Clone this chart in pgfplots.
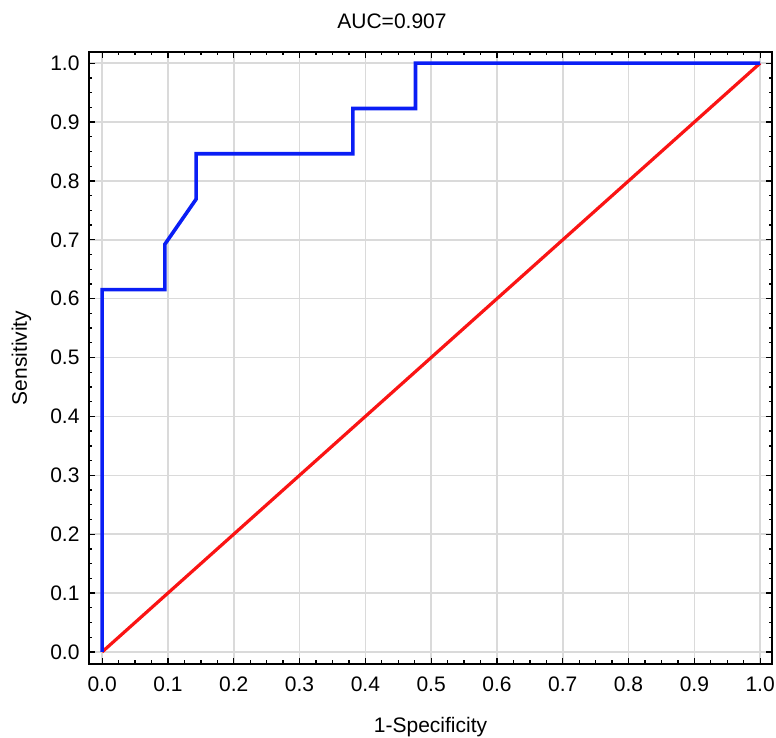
\documentclass[border=0pt]{standalone}
\usepackage{pgfplots}
\pgfplotsset{compat=1.18}
\usepackage{fontspec}
\setmainfont{Liberation Sans}

\definecolor{rocBlue}{RGB}{10,30,245}
\definecolor{refRed}{RGB}{250,20,20}
\definecolor{gridGray}{RGB}{218,218,218}

\begin{document}
\begin{tikzpicture}
    \begin{axis}[
            at={(0pt,0pt)},
            anchor=south west,
            width=683pt,
            height=612pt,
            scale only axis,
            xmin=-0.02, xmax=1.018,
            ymin=-0.0205, ymax=1.019,
            xtick={0,0.1,...,1.0},
            ytick={0,0.1,...,1.0},
            minor x tick num=3,
            minor y tick num=3,
            /pgf/number format/fixed,
            /pgf/number format/fixed zerofill,
            /pgf/number format/precision=1,
            /pgf/number format/assume math mode=true,
            tick label style={font=\fontsize{21}{25}\selectfont},
            xticklabel style={yshift=-9pt},
            yticklabel style={xshift=-6pt},
            tick align=inside,
            major tick length=6pt,
            minor tick length=3.5pt,
            tick style={black, line width=1.3pt},
            axis line style={black, line width=1.8pt},
            grid=major,
            major grid style={gridGray, line width=1.6pt},
            title={AUC=0.907},
            title style={at={(axis description cs:0.4436,1.0278)}, anchor=base,
                font=\fontsize{21}{25}\selectfont},
            xlabel={1-Specificity},
            xlabel style={at={(axis description cs:0.5,-0.1115)}, anchor=base,
                font=\fontsize{21}{25}\selectfont},
            ylabel={Sensitivity},
            ylabel style={at={(axis description cs:-0.0908,0.5)}, anchor=base,
                font=\fontsize{21}{25}\selectfont},
            clip=false
        ]

        % reference line
        \addplot[color=refRed, line width=3.2pt, mark=none] coordinates {
            (0,0) (1,1)
        };

        % ROC curve (13 positives, 21 negatives)
        \addplot[color=rocBlue, line width=3.6pt, mark=none, line join=miter] coordinates {
            (0,0)
            (0,0.6154)
            (0.0952,0.6154)
            (0.0952,0.6923)
            (0.1429,0.7692)
            (0.1429,0.8462)
            (0.3810,0.8462)
            (0.3810,0.9231)
            (0.4762,0.9231)
            (0.4762,1.0)
            (1.0,1.0)
        };

    \end{axis}
    \pgfresetboundingbox
    \path[use as bounding box] (-89pt,-74pt) rectangle (687pt,664pt);
\end{tikzpicture}
\end{document}
